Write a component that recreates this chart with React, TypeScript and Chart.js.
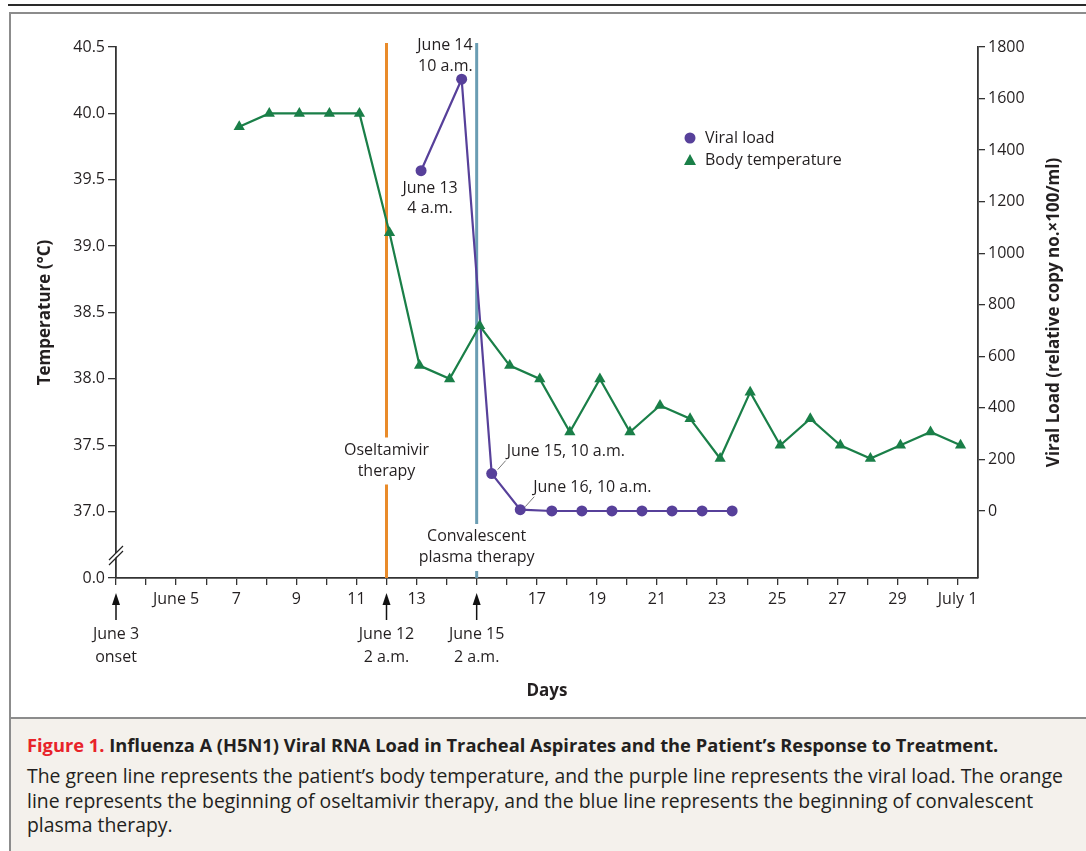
import React, { useEffect, useRef } from 'react';
import { Chart, registerables } from 'chart.js';

Chart.register(...registerables);

const FONT = '"Open Sans", "DejaVu Sans", sans-serif';
const TEXT = '#231f20';
const GREEN = '#1a7f48';
const PURPLE = '#57409a';
const ORANGE = '#e98b2a';
const BLUE = '#6a9db3';

// Body temperature (°C), measured each morning
const tempDays = [7.1, 8.1, 9.1, 10.1, 11.1, 12.1, 13.1, 14.1, 15.1, 16.1, 17.1, 18.1, 19.1, 20.1, 21.1, 22.1, 23.1, 24.1, 25.1, 26.1, 27.1, 28.1, 29.1, 30.1, 31.1];
const tempValues = [39.9, 40.0, 40.0, 40.0, 40.0, 39.1, 38.1, 38.0, 38.4, 38.1, 38.0, 37.6, 38.0, 37.6, 37.8, 37.7, 37.4, 37.9, 37.5, 37.7, 37.5, 37.4, 37.5, 37.6, 37.5];

// Viral load (relative copy no. x 100/ml)
const viralDays = [13.15, 14.5, 15.5, 16.45, 17.5, 18.5, 19.5, 20.5, 21.5, 22.5, 23.5];
const viralValues = [1320, 1675, 145, 5, 0, 0, 0, 0, 0, 0, 0];

// x axis (days of June; 31 = July 1)
const xTickDays = [3, 4, 5, 6, 7, 8, 9, 10, 11, 12, 13, 14, 15, 16, 17, 18, 19, 20, 21, 22, 23, 24, 25, 26, 27, 28, 29, 30, 31];
const xLabelDays = [5, 7, 9, 11, 13, 17, 19, 21, 23, 25, 27, 29, 31];
const xLabelTexts = ['June 5', '7', '9', '11', '13', '17', '19', '21', '23', '25', '27', '29', 'July 1'];

// left axis (the lowest tick stands for the broken "0.0")
const tempTicks = [36.5, 37.0, 37.5, 38.0, 38.5, 39.0, 39.5, 40.0, 40.5];
const tempTickLabels = ['0.0', '37.0', '37.5', '38.0', '38.5', '39.0', '39.5', '40.0', '40.5'];

// right axis
const viralTicks = [0, 200, 400, 600, 800, 1000, 1200, 1400, 1600, 1800];

// treatments
const treatmentDays = [12, 15];
const treatmentColors = [ORANGE, BLUE];
const treatmentLabels = [['Oseltamivir', 'therapy'], ['Convalescent', 'plasma therapy']];
const treatmentLabelOffsets = [117.5, 31]; // label centre above the x axis

// arrows under the x axis
const arrowDays = [3, 12, 15];
const arrowLabels = [['June 3', 'onset'], ['June 12', '2 a.m.'], ['June 15', '2 a.m.']];

const annotationPlugin = {
  id: 'annotations',
  beforeDatasetsDraw(chart: any) {
    const { ctx, chartArea, scales } = chart;
    const xs = scales.x;
    ctx.save();
    treatmentDays.forEach((d, i) => {
      const x = xs.getPixelForValue(d);
      const cy = chartArea.bottom - treatmentLabelOffsets[i];
      ctx.strokeStyle = treatmentColors[i];
      ctx.lineWidth = 3;
      ctx.beginPath();
      ctx.moveTo(x, chartArea.top - 4);
      ctx.lineTo(x, cy - 23);
      ctx.moveTo(x, cy + 24);
      ctx.lineTo(x, chartArea.bottom);
      ctx.stroke();
    });
    ctx.restore();
  },
  afterDraw(chart: any) {
    const { ctx, chartArea, scales } = chart;
    const xs = scales.x;
    const y1 = scales.y1;
    ctx.save();
    ctx.fillStyle = TEXT;
    ctx.font = `16px ${FONT}`;
    ctx.textBaseline = 'middle';

    // treatment labels
    ctx.textAlign = 'center';
    treatmentDays.forEach((d, i) => {
      const x = xs.getPixelForValue(d);
      const cy = chartArea.bottom - treatmentLabelOffsets[i];
      ctx.fillText(treatmentLabels[i][0], x, cy - 10.5);
      ctx.fillText(treatmentLabels[i][1], x, cy + 10.5);
    });

    // viral point annotations
    const px = (i: number) => xs.getPixelForValue(viralDays[i]);
    const py = (i: number) => y1.getPixelForValue(viralValues[i]);
    ctx.textAlign = 'center';
    ctx.fillText('June 13', px(0) + 9, py(0) + 18);
    ctx.fillText('4 a.m.', px(0) + 9, py(0) + 38);
    ctx.textAlign = 'right';
    ctx.fillText('June 14', px(1) + 11, py(1) - 34);
    ctx.fillText('10 a.m.', px(1) + 11, py(1) - 13);
    ctx.textAlign = 'left';
    ctx.fillText('June 15, 10 a.m.', px(2) + 15, py(2) - 22);
    ctx.fillText('June 16, 10 a.m.', px(3) + 13, py(3) - 22);
    ctx.strokeStyle = '#777';
    ctx.lineWidth = 1;
    ctx.beginPath();
    ctx.moveTo(px(2) + 6, py(2) - 4);
    ctx.lineTo(px(2) + 14, py(2) - 13);
    ctx.moveTo(px(3) + 5, py(3) - 3);
    ctx.lineTo(px(3) + 14, py(3) - 13);
    ctx.stroke();

    // legend
    const lx = chartArea.left + 574;
    const ly = chartArea.top + 91;
    ctx.fillStyle = PURPLE;
    ctx.beginPath();
    ctx.arc(lx, ly, 5.5, 0, Math.PI * 2);
    ctx.fill();
    ctx.fillStyle = GREEN;
    ctx.beginPath();
    ctx.moveTo(lx, ly + 22 - 6);
    ctx.lineTo(lx + 6, ly + 22 + 5);
    ctx.lineTo(lx - 6, ly + 22 + 5);
    ctx.closePath();
    ctx.fill();
    ctx.fillStyle = TEXT;
    ctx.textAlign = 'left';
    ctx.fillText('Viral load', lx + 15, ly);
    ctx.fillText('Body temperature', lx + 15, ly + 22);

    // arrows below the axis
    ctx.strokeStyle = '#111';
    ctx.fillStyle = '#111';
    ctx.lineWidth = 1.5;
    arrowDays.forEach((d, i) => {
      const x = xs.getPixelForValue(d);
      const b = chartArea.bottom;
      ctx.beginPath();
      ctx.moveTo(x, b + 42);
      ctx.lineTo(x, b + 24);
      ctx.stroke();
      ctx.beginPath();
      ctx.moveTo(x, b + 15);
      ctx.lineTo(x + 4, b + 27);
      ctx.lineTo(x - 4, b + 27);
      ctx.closePath();
      ctx.fill();
      ctx.fillStyle = TEXT;
      ctx.textAlign = 'center';
      ctx.fillText(arrowLabels[i][0], x, b + 56);
      ctx.fillText(arrowLabels[i][1], x, b + 79);
      ctx.fillStyle = '#111';
    });

    // axis break marks on the left axis
    const bx = chartArea.left;
    const by = chartArea.bottom - 21;
    ctx.fillStyle = '#fff';
    ctx.beginPath();
    ctx.moveTo(bx - 7, by + 7);
    ctx.lineTo(bx + 6, by - 6);
    ctx.lineTo(bx + 6, by - 10);
    ctx.lineTo(bx - 7, by + 3);
    ctx.closePath();
    ctx.fill();
    ctx.strokeStyle = '#222';
    ctx.lineWidth = 1.2;
    ctx.beginPath();
    ctx.moveTo(bx - 7, by + 8);
    ctx.lineTo(bx + 7, by - 6);
    ctx.moveTo(bx - 7, by + 3);
    ctx.lineTo(bx + 7, by - 11);
    ctx.stroke();

    // axis titles
    ctx.fillStyle = TEXT;
    ctx.font = `bold 17px ${FONT}`;
    ctx.textAlign = 'center';
    const midY = (chartArea.top + chartArea.bottom) / 2;
    ctx.fillText('Days', (chartArea.left + chartArea.right) / 2, chartArea.bottom + 113);
    ctx.save();
    ctx.translate(chartArea.left - 71, midY);
    ctx.rotate(-Math.PI / 2);
    ctx.fillText('Temperature (°C)', 0, 0);
    ctx.restore();
    ctx.save();
    ctx.translate(chartArea.right + 76, midY);
    ctx.rotate(-Math.PI / 2);
    ctx.fillText('Viral Load (relative copy no.×100/ml)', 0, 0);
    ctx.restore();

    ctx.restore();
  },
};

function ChartView() {
  const ref = useRef<HTMLCanvasElement | null>(null);
  useEffect(() => {
    if (!ref.current) return;
    Chart.defaults.font.family = FONT;
    Chart.defaults.color = TEXT;
    const tickFont = { family: FONT, size: 16 };
    const chart = new Chart(ref.current, {
      type: 'line',
      data: {
        datasets: [
          {
            label: 'Body temperature',
            yAxisID: 'y',
            data: tempDays.map((d, i) => ({ x: d, y: tempValues[i] })),
            borderColor: GREEN,
            backgroundColor: GREEN,
            borderWidth: 2.2,
            pointStyle: 'triangle',
            pointRadius: 6.5,
            pointBorderWidth: 0,
            tension: 0,
          },
          {
            label: 'Viral load',
            yAxisID: 'y1',
            data: viralDays.map((d, i) => ({ x: d, y: viralValues[i] })),
            borderColor: PURPLE,
            backgroundColor: PURPLE,
            borderWidth: 2.2,
            pointStyle: 'circle',
            pointRadius: 5.5,
            pointBorderWidth: 0,
            tension: 0,
          },
        ],
      },
      options: {
        animation: false,
        responsive: false,
        maintainAspectRatio: false,
        layout: { padding: { top: 47, left: 0, right: 0, bottom: 0 } },
        plugins: { legend: { display: false }, tooltip: { enabled: false } },
        scales: {
          x: {
            type: 'linear',
            position: 'bottom',
            min: 3,
            max: 31.68,
            afterBuildTicks: (s: any) => { s.ticks = xTickDays.map((v) => ({ value: v })); },
            afterFit: (s: any) => { s.height = 138; },
            ticks: {
              autoSkip: false,
              maxRotation: 0,
              padding: 5,
              font: tickFont,
              color: TEXT,
              callback: (v: any) => {
                const i = xLabelDays.indexOf(Number(v));
                return i >= 0 ? xLabelTexts[i] : '';
              },
            },
            grid: { drawOnChartArea: false, drawTicks: true, tickLength: 7, color: '#333', lineWidth: 1.3 },
            border: { display: true, color: '#333', width: 1.8 },
          },
          y: {
            type: 'linear',
            position: 'left',
            min: 36.5,
            max: 40.5,
            afterBuildTicks: (s: any) => { s.ticks = tempTicks.map((v) => ({ value: v })); },
            afterFit: (s: any) => { s.width = 116; },
            ticks: {
              padding: 3,
              font: tickFont,
              color: TEXT,
              callback: (v: any) => {
                const i = tempTicks.indexOf(Number(v));
                return i >= 0 ? tempTickLabels[i] : '';
              },
            },
            grid: { drawOnChartArea: false, drawTicks: true, tickLength: 8, color: '#333', lineWidth: 1.3 },
            border: { display: true, color: '#333', width: 1.8 },
          },
          y1: {
            type: 'linear',
            position: 'right',
            min: -260,
            max: 1800,
            afterBuildTicks: (s: any) => { s.ticks = viralTicks.map((v) => ({ value: v })); },
            afterFit: (s: any) => { s.width = 108; },
            ticks: { padding: 3, font: tickFont, color: TEXT, callback: (v: any) => String(v) },
            grid: { drawOnChartArea: false, drawTicks: true, tickLength: 7, color: '#333', lineWidth: 1.3 },
            border: { display: true, color: '#333', width: 1.8 },
          },
        },
      },
      plugins: [annotationPlugin],
    } as any);
    let alive = true;
    if ((document as any).fonts) {
      Promise.all([
        (document as any).fonts.load(`16px "Open Sans"`),
        (document as any).fonts.load(`bold 16px "Open Sans"`),
      ]).then(() => { if (alive) chart.update(); }).catch(() => {});
    }
    return () => { alive = false; chart.destroy(); };
  }, []);
  return (
    <canvas
      ref={ref}
      width={1086}
      height={716}
      style={{ position: 'absolute', left: 0, top: 0, width: 1086, height: 716 }}
    />
  );
}

export default function App() {
  return (
    <div style={{ position: 'fixed', left: 0, top: 0, width: 1086, height: 851, background: '#fff', overflow: 'hidden', fontFamily: FONT, color: TEXT }}>
      <div style={{ position: 'absolute', left: 8, top: 4, width: 1078, height: 2, background: '#2a2a2a' }} />
      <div style={{ position: 'absolute', left: 9, top: 12, width: 1077, height: 2, background: '#8c8c8c' }} />
      <div style={{ position: 'absolute', left: 9, top: 12, width: 2, height: 839, background: '#8c8c8c' }} />
      <div style={{ position: 'absolute', left: 11, top: 719, width: 1075, height: 132, background: '#f4f1ec' }} />
      <div style={{ position: 'absolute', left: 9, top: 717, width: 1077, height: 2, background: '#8c8c8c' }} />
      <ChartView />
      <div style={{ position: 'absolute', left: 27, top: 733, whiteSpace: 'nowrap', fontSize: 18.3, lineHeight: '24px', fontWeight: 700 }}>
        <span style={{ color: '#e8232a' }}>Figure 1.</span> Influenza A (H5N1) Viral RNA Load in Tracheal Aspirates and the Patient’s Response to Treatment.
      </div>
      <div style={{ position: 'absolute', left: 27, top: 764, whiteSpace: 'nowrap', fontSize: 19.4, lineHeight: '24.5px', fontWeight: 400 }}>
        The green line represents the patient’s body temperature, and the purple line represents the viral load. The orange
        <br />
        line represents the beginning of oseltamivir therapy, and the blue line represents the beginning of convalescent
        <br />
        plasma therapy.
      </div>
    </div>
  );
}
